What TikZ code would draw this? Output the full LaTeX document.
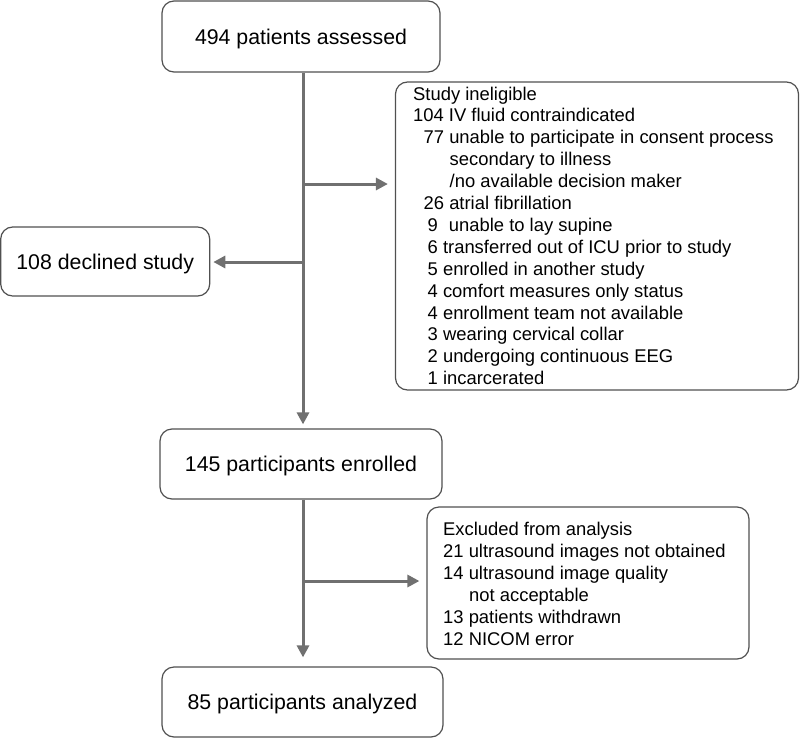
\documentclass[tikz,border=0pt]{standalone}
\usepackage{fontspec}
\setmainfont{Liberation Sans}
\usetikzlibrary{arrows.meta}
\definecolor{boxgray}{RGB}{80,80,80}
\definecolor{arrowgray}{RGB}{112,112,112}
\begin{document}
\begin{tikzpicture}[x=1pt,y=-1pt,
  box/.style={draw=boxgray, line width=1.2pt, rounded corners=12pt, inner sep=0pt},
  mainbox/.style={box, font=\fontsize{21.3}{25}\selectfont, text height=15.3pt, text depth=0pt},
  listtext/.style={anchor=base west, inner sep=0pt, font=\fontsize{18.4}{22}\selectfont},
  flow/.style={draw=arrowgray, line width=3pt},
  arr/.style={flow, -{Triangle[length=12pt,width=12pt]}}]
\useasboundingbox (0,0) rectangle (800,739);

\node[mainbox, minimum width=278pt, minimum height=71pt] (assessed) at (301,36.5) {494 patients assessed};
\node[mainbox, minimum width=209pt, minimum height=69pt] (declined) at (105.2,261.5) {108 declined study};
\node[box, minimum width=403pt, minimum height=308pt] (inel) at (597,236) {};
\node[mainbox, minimum width=282pt, minimum height=70pt] (enrolled) at (301,464) {145 participants enrolled};
\node[box, minimum width=322pt, minimum height=152pt] (excl) at (588,583) {};
\node[mainbox, minimum width=281pt, minimum height=70pt] (analyzed) at (302.5,702) {85 participants analyzed};

\node[listtext] (ineltext) at (413,100) {\vtop{\baselineskip=21.9pt
  \hbox{Study ineligible}
  \hbox{104 IV fluid contraindicated}
  \hbox{\hspace*{10.5pt}77 unable to participate in consent process}
  \hbox{\hspace*{36.5pt}secondary to illness}
  \hbox{\hspace*{36.5pt}/no available decision maker}
  \hbox{\hspace*{10.5pt}26 atrial fibrillation}
  \hbox{\hspace*{14.5pt}9\hspace*{11pt}unable to lay supine}
  \hbox{\hspace*{14.5pt}6 transferred out of ICU prior to study}
  \hbox{\hspace*{14.5pt}5 enrolled in another study}
  \hbox{\hspace*{14.5pt}4 comfort measures only status}
  \hbox{\hspace*{14.5pt}4 enrollment team not available}
  \hbox{\hspace*{14.5pt}3 wearing cervical collar}
  \hbox{\hspace*{14.5pt}2 undergoing continuous EEG}
  \hbox{\hspace*{14.5pt}1 incarcerated}}};

\node[listtext] (excltext) at (443,535) {\vtop{\baselineskip=22pt
  \hbox{Excluded from analysis}
  \hbox{21 ultrasound images not obtained}
  \hbox{14 ultrasound image quality}
  \hbox{\hspace*{26pt}not acceptable}
  \hbox{13 patients withdrawn}
  \hbox{12 NICOM error}}};

\coordinate (j1) at (303,184);
\coordinate (j2) at (303,262);
\coordinate (j3) at (303,581);
\draw[arr, shorten >=4pt] (assessed.south -| j1) -- (enrolled.north -| j1);
\draw[arr, shorten >=7pt] (j1) -- (j1 -| inel.west);
\draw[arr, shorten >=3pt] (j2) -- (j2 -| declined.east);
\draw[arr, shorten >=9pt] (enrolled.south -| j3) -- (analyzed.north -| j3);
\draw[arr, shorten >=7pt] (j3) -- (j3 -| excl.west);
\end{tikzpicture}
\end{document}
